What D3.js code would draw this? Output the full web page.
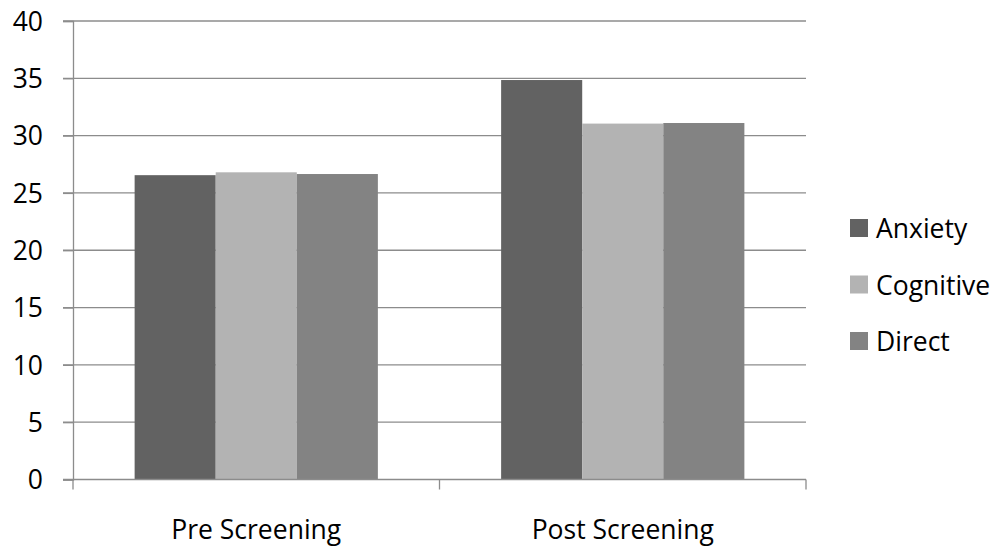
<!DOCTYPE html>
<html><head><meta charset="utf-8">
<script src="https://cdn.jsdelivr.net/npm/d3@7"></script>
<style>body{margin:0;background:#fff}svg{display:block}text{font-family:"Open Sans",sans-serif;fill:#000}</style>
</head><body><svg id="c" width="1001" height="552"></svg>
<script>
const categories = ["Pre Screening", "Post Screening"];
const seriesNames = ["Anxiety", "Cognitive", "Direct"];
const anxiety = [26.55, 34.85];
const cognitive = [26.8, 31.05];
const direct = [26.65, 31.1];
const yTicks = [0, 5, 10, 15, 20, 25, 30, 35, 40];
const colors = ["#626262", "#b3b3b3", "#838383"];
const seriesValues = [anxiety, cognitive, direct];

(function () {
const svg = d3.select("#c");
const pLeft = 73, pRight = 806, pTop = 21, pBottom = 479.5;
const fs = "26.5px";
const x = d3.scaleBand().domain(categories).range([pLeft, pRight]);
const y = d3.scaleLinear().domain([0, 40]).range([pBottom, pTop]);
const inner = d3.scaleBand().domain(seriesNames).range([0, x.bandwidth()]).paddingInner(0).paddingOuter(0.76);
const grid = "#8c8c8c";

// gridlines
svg.append("g").selectAll("line").data(yTicks.filter(d => d > 0)).join("line")
  .attr("x1", pLeft - 10).attr("x2", pRight).attr("y1", d => y(d)).attr("y2", d => y(d))
  .attr("stroke", grid).attr("stroke-width", 1.3);

// bars
seriesNames.forEach((s, i) => {
  svg.append("g").selectAll("rect").data(categories).join("rect")
    .attr("x", c => x(c) + inner(s)).attr("width", inner.bandwidth())
    .attr("y", (c, j) => y(seriesValues[i][j])).attr("height", (c, j) => pBottom - y(seriesValues[i][j]))
    .attr("fill", colors[i]);
});

// y axis
const yAxis = d3.axisLeft(y).tickValues(yTicks).tickSize(10).tickPadding(20);
const ya = svg.append("g").attr("transform", `translate(${pLeft},0)`).call(yAxis);
ya.select(".domain").attr("stroke", grid).attr("stroke-width", 1.3);
ya.selectAll(".tick line").attr("stroke", grid).attr("stroke-width", 1.3);
ya.selectAll(".tick text").style("font-size", fs).style("font-family", "'Open Sans', sans-serif").attr("fill", "#000").attr("dy", "0.35em");

// x axis
const xa = svg.append("g").attr("transform", `translate(0,${pBottom})`);
xa.append("line").attr("x1", pLeft - 10).attr("x2", pRight).attr("y1", 0).attr("y2", 0).attr("stroke", grid).attr("stroke-width", 1.3);
const bounds = [pLeft, ...categories.map(c => x(c) + x.bandwidth())];
xa.selectAll(".xt").data(bounds).join("line").attr("class", "xt")
  .attr("x1", d => d).attr("x2", d => d).attr("y1", 0).attr("y2", 10)
  .attr("stroke", grid).attr("stroke-width", 1.3);
xa.selectAll(".xl").data(categories).join("text").attr("class", "xl")
  .attr("x", d => x(d) + x.bandwidth() / 2).attr("y", 59)
  .attr("text-anchor", "middle").style("font-size", fs).text(d => d);

// legend
const lg = svg.append("g").attr("transform", "translate(850,228)");
seriesNames.forEach((s, i) => {
  const g = lg.append("g").attr("transform", `translate(0,${i * 56.5})`);
  g.append("rect").attr("x", 0).attr("y", -9).attr("width", 18).attr("height", 18).attr("fill", colors[i]);
  g.append("text").attr("x", 26).attr("y", 1).attr("dy", "0.35em").style("font-size", fs).text(s);
});
})();
</script></body></html>
